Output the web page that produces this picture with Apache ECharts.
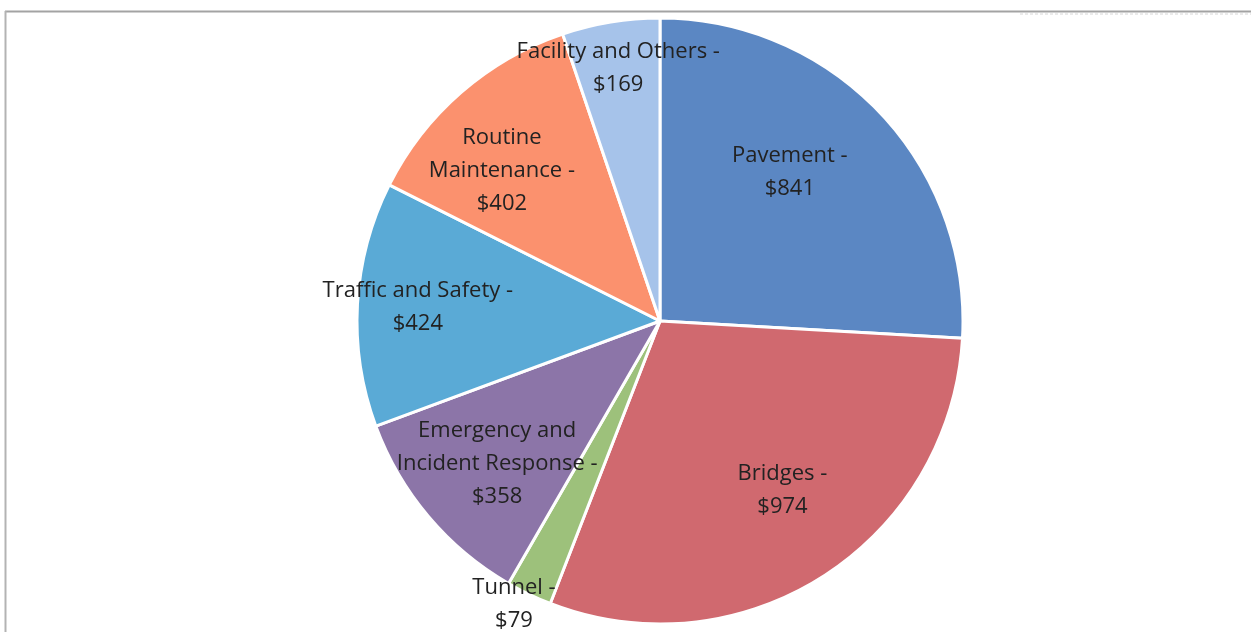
<!DOCTYPE html>
<html>
<head>
<meta charset="utf-8">
<script src="https://cdn.jsdelivr.net/npm/echarts@6/dist/echarts.min.js"></script>
<style>
  html, body { margin: 0; padding: 0; background: #fff; }
  #chart { width: 1251px; height: 632px; }
</style>
</head>
<body>
<div id="chart"></div>
<script>
// categories and values (in $ millions), clockwise from 12 o'clock
const categories = ['Pavement', 'Bridges', 'Tunnel', 'Emergency and\nIncident Response',
  'Traffic and Safety', 'Routine\nMaintenance', 'Facility and Others']
const amounts = [841, 974, 79, 358, 424, 402, 169]
const colors = ['#5b87c3', '#d0696f', '#9dc17b', '#8c75a8', '#5aaad6', '#fb916e', '#a6c3ea']

// label placement: radial scale from the default inside spot, and a small turn (degrees)
const labelScale = [1.28, 1.35, 2.06, 1.40, 1.57, 1.41, 1.66]
const labelTurn = [-5.6, -3.2, 1.7, -1.0, 0, -5.5, 0]

const center = [660, 321]
const radius = 303

let chart = echarts.init(document.getElementById('chart'))

let option = {
  animation: false,
  graphic: [
    // frame of the scanned chart box
    { type: 'line', shape: { x1: 5, y1: 11.5, x2: 1251, y2: 11.5 }, style: { stroke: '#a3a3a3', lineWidth: 2 } },
    { type: 'line', shape: { x1: 5.5, y1: 11, x2: 5.5, y2: 632 }, style: { stroke: '#b3b3b3', lineWidth: 2 } },
    { type: 'line', shape: { x1: 1020, y1: 14, x2: 1251, y2: 14 }, style: { stroke: '#d6d6d6', lineWidth: 1, lineDash: [3, 2] } }
  ],
  series: [
    {
      type: 'pie',
      center: center,
      radius: [0, radius],
      startAngle: 90,
      clockwise: true,
      silent: true,
      itemStyle: { borderColor: '#fff', borderWidth: 3 },
      label: {
        show: true,
        position: 'inside',
        formatter: (p) => p.name + ' -\n$' + p.value,
        fontFamily: '"Open Sans", Lato, sans-serif',
        fontSize: 22,
        lineHeight: 33,
        color: '#222'
      },
      labelLine: { show: false },
      labelLayout: (params) => {
        let r = params.labelRect
        let i = params.dataIndex
        let vx = r.x + r.width / 2 - center[0]
        let vy = r.y + r.height / 2 - center[1]
        let t = labelTurn[i] * Math.PI / 180
        let k = labelScale[i]
        let rx = (vx * Math.cos(t) - vy * Math.sin(t)) * k
        let ry = (vx * Math.sin(t) + vy * Math.cos(t)) * k
        return { x: center[0] + rx, y: center[1] + ry, align: 'center', verticalAlign: 'middle' }
      },
      data: categories.map((c, i) => ({
        name: c,
        value: amounts[i],
        itemStyle: { color: colors[i] }
      }))
    }
  ]
}

chart.setOption(option)
</script>
</body>
</html>
